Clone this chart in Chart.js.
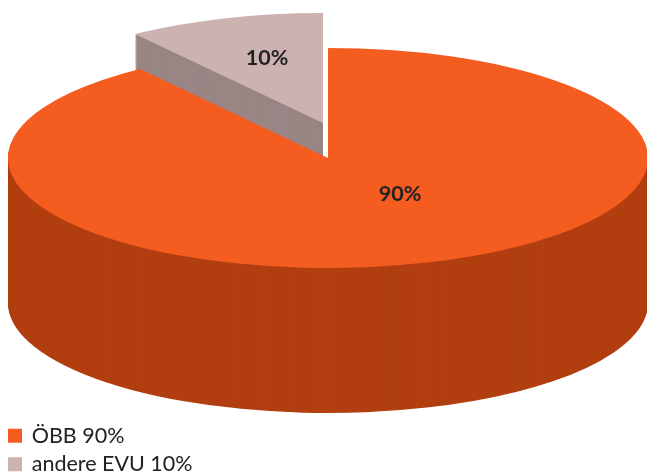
<!DOCTYPE html>
<html><head><meta charset="utf-8">
<style>html,body{margin:0;padding:0;background:#fff}#w{position:relative;width:647px;height:475px}</style>
<script src="https://cdn.jsdelivr.net/npm/chart.js@4"></script></head>
<body><div id="w"><canvas id="c" width="647" height="475"></canvas></div>
<script>
const categories = ['ÖBB 90%', 'andere EVU 10%'];
const sliceLabels = ['90%', '10%'];
const shares = [90, 10];
const topColours = ['#F55C20', '#CDB2B2'];
const sideColours = ['#B23F10', '#9A8585'];

const geom = {cx: 328, cy: 158, rx: 320, ry: 110, depth: 145};
const lift = [{x: 0, y: 0}, {x: -5, y: -35}];
const labelAt = [{x: 400, y: 194}, {x: 267, y: 58}];

const pie3d = {
  id: 'pie3d',
  afterLayout(chart) {
    chart.legend.bottom += 7;
    chart.legend.left += 2;
  },
  beforeDatasetsDraw(chart) {
    const ctx = chart.ctx;
    const arcs = chart.getDatasetMeta(0).data;
    const paint = (arc, i, dy, colour) => {
      const saved = arc.options;
      arc.options = Object.assign({}, saved, {backgroundColor: colour, borderWidth: 0});
      ctx.save();
      ctx.translate(geom.cx + lift[i].x, geom.cy + lift[i].y + dy);
      ctx.scale(1, geom.ry / geom.rx);
      ctx.translate(-arc.x, -arc.y);
      arc.draw(ctx);
      ctx.restore();
      arc.options = saved;
    };
    [1, 0].forEach(i => {
      for (let d = geom.depth; d > 0; d--) paint(arcs[i], i, d, sideColours[i]);
      paint(arcs[i], i, 0, topColours[i]);
    });
    ctx.save();
    ctx.font = 'bold 21.5px Lato';
    ctx.fillStyle = '#222222';
    ctx.textAlign = 'center';
    ctx.textBaseline = 'middle';
    sliceLabels.forEach((t, i) => ctx.fillText(t, labelAt[i].x, labelAt[i].y));
    ctx.restore();
    return false;
  }
};

new Chart(document.getElementById('c'), {
  type: 'pie',
  data: {
    labels: categories,
    datasets: [{data: shares, backgroundColor: topColours, borderWidth: 0}]
  },
  plugins: [pie3d],
  options: {
    responsive: false,
    animation: false,
    radius: geom.rx,
    plugins: {
      tooltip: {enabled: false},
      legend: {
        position: 'left',
        align: 'end',
        labels: {
          boxWidth: 12, boxHeight: 12, padding: 7,
          color: '#222222',
          font: {family: 'Lato', size: 21.5},
          generateLabels(chart) {
            return Chart.overrides.pie.plugins.legend.labels.generateLabels(chart).map((item, i) =>
              Object.assign(item, {strokeStyle: topColours[i], lineWidth: 2}));
          }
        }
      }
    }
  }
});
</script></body></html>
